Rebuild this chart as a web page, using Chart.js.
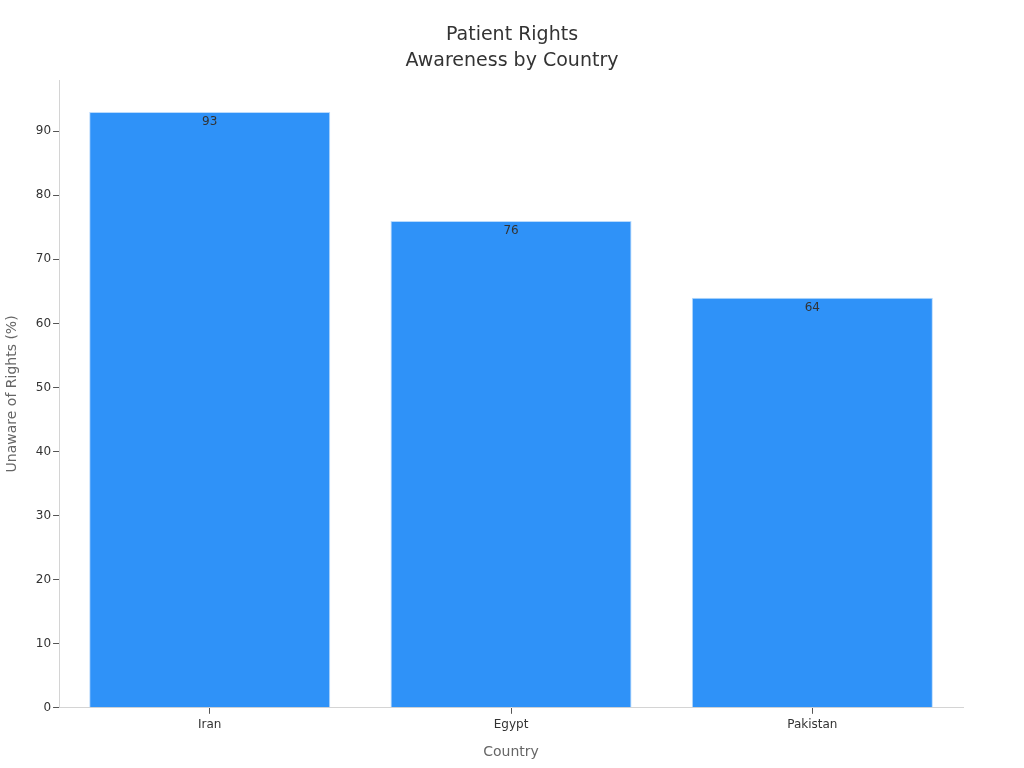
<!DOCTYPE html>
<html>
<head>
<meta charset="utf-8">
<script src="https://cdn.jsdelivr.net/npm/chart.js@4"></script>
<style>
html,body{margin:0;padding:0;background:#fff;}
#wrap{width:1024px;height:768px;position:relative;}
</style>
</head>
<body>
<div id="wrap"><canvas id="c" width="1024" height="768"></canvas></div>
<script>
const categories = ["Iran", "Egypt", "Pakistan"];
const unawareValues = [93, 76, 64];
const yTickValues = [0, 10, 20, 30, 40, 50, 60, 70, 80, 90];
const titleLines = ['Patient Rights', 'Awareness by Country'];

const valueLabels = {
  id: 'valueLabels',
  afterDatasetsDraw(chart) {
    const ctx = chart.ctx;
    const meta = chart.getDatasetMeta(0);
    ctx.save();
    ctx.font = '12px "DejaVu Sans"';
    ctx.fillStyle = '#333';
    ctx.textAlign = 'center';
    ctx.textBaseline = 'top';
    meta.data.forEach((bar, i) => {
      ctx.fillText(String(chart.data.datasets[0].data[i]), bar.x, bar.y + 4);
    });
    ctx.restore();
  }
};

const centeredTitle = {
  id: 'centeredTitle',
  afterDraw(chart) {
    const ctx = chart.ctx;
    ctx.save();
    ctx.font = '19px "DejaVu Sans"';
    ctx.fillStyle = '#333';
    ctx.textAlign = 'center';
    ctx.textBaseline = 'middle';
    titleLines.forEach((t, i) => ctx.fillText(t, chart.width / 2, 35 + i * 26));
    ctx.restore();
  }
};

Chart.defaults.font.family = '"DejaVu Sans", sans-serif';
new Chart(document.getElementById('c'), {
  type: 'bar',
  data: {
    labels: categories,
    datasets: [{
      data: unawareValues,
      backgroundColor: '#2f92f8',
      borderColor: '#b9dafc',
      borderWidth: 1,
      barPercentage: 0.8,
      categoryPercentage: 1.0
    }]
  },
  options: {
    responsive: false,
    animation: false,
    layout: { padding: { left: 1, right: 61, top: 80, bottom: 1 } },
    plugins: {
      legend: { display: false },
      tooltip: { enabled: false },
      title: { display: false }
    },
    scales: {
      x: {
        grid: { display: true, drawOnChartArea: false, offset: false, tickLength: 6, color: '#555', tickColor: '#555' },
        border: { color: '#d4d4d4' },
        ticks: { color: '#333', font: { size: 12 }, padding: 4 },
        title: { display: true, text: 'Country', color: '#666', font: { size: 14 }, padding: { top: 8, bottom: 6 } }
      },
      y: {
        min: 0,
        max: 98,
        afterBuildTicks(axis) { axis.ticks = yTickValues.map(v => ({ value: v })); },
        grid: { display: true, drawOnChartArea: false, tickLength: 6, tickColor: '#555' },
        border: { color: '#d4d4d4' },
        ticks: { color: '#333', font: { size: 12 }, padding: 2 },
        title: { display: true, text: 'Unaware of Rights (%)', color: '#666', font: { size: 14 }, padding: { top: 3, bottom: 13 } }
      }
    }
  },
  plugins: [valueLabels, centeredTitle]
});
</script>
</body>
</html>
